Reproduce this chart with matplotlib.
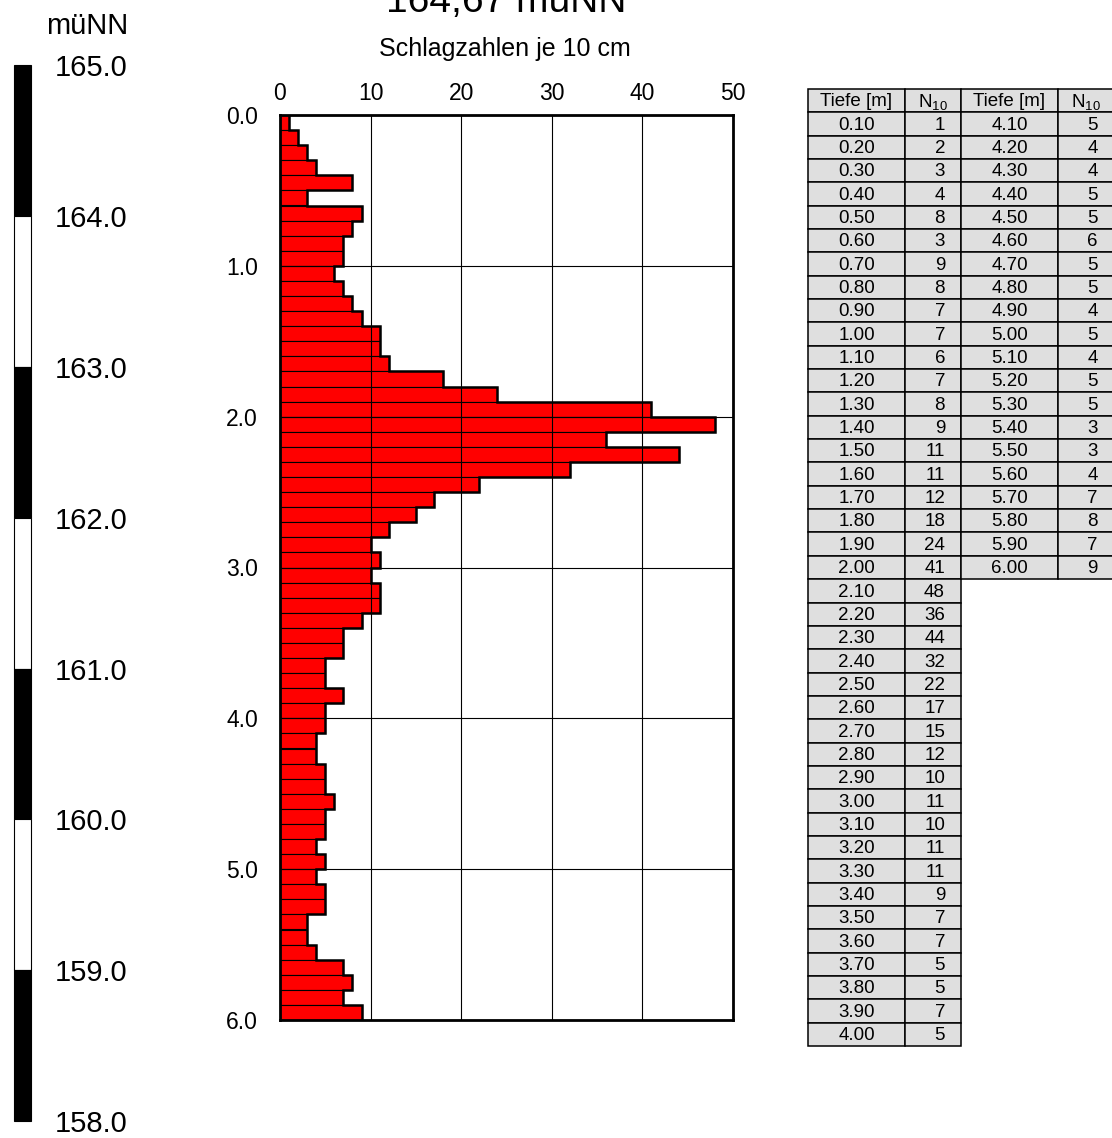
import numpy as np
import matplotlib.pyplot as plt
import matplotlib.transforms as mtransforms
from matplotlib.patches import Rectangle

plt.rcParams['font.family'] = ['Liberation Sans', 'DejaVu Sans']
plt.rcParams['mathtext.fontset'] = 'custom'
plt.rcParams['mathtext.rm'] = 'Liberation Sans'
plt.rcParams['mathtext.it'] = 'Liberation Sans:italic'

# Ansatzhoehe und Schlagzahlen N10 je 10 cm
ansatz = 164.67
tiefe = np.round(np.arange(1, 61) * 0.1, 2)
n10 = [1, 2, 3, 4, 8, 3, 9, 8, 7, 7,
       6, 7, 8, 9, 11, 11, 12, 18, 24, 41,
       48, 36, 44, 32, 22, 17, 15, 12, 10, 11,
       10, 11, 11, 9, 7, 7, 5, 5, 7, 5,
       5, 4, 4, 5, 5, 6, 5, 5, 4, 5,
       4, 5, 5, 3, 3, 4, 7, 8, 7, 9]
hoehen = [165.0, 164.0, 163.0, 162.0, 161.0, 160.0, 159.0, 158.0]
x_ticks = [0, 10, 20, 30, 40, 50]
y_ticks = [0, 1, 2, 3, 4, 5, 6]
split = 40  # Zeilen in der ersten Tabellenspalte

W, H = 1112, 1138
def fx(p): return p / W
def fy(p): return 1 - p / H

fig = plt.figure(figsize=(W / 100, H / 100), dpi=100)

# Hauptdiagramm
ax = fig.add_axes([fx(280), fy(1020), (733 - 280) / W, (1020 - 115) / H])
ax.barh(tiefe - 0.05, n10, height=0.1, color='red', edgecolor='black',
        linewidth=0.8, zorder=1)
ax.stairs(n10, np.r_[0, tiefe], orientation='horizontal', baseline=None,
          color='black', lw=1.8, zorder=2)
ax.set_xlim(0, 50)
ax.set_ylim(6, 0)
ax.xaxis.tick_top()
ax.set_xticks(x_ticks)
ax.set_yticks(y_ticks)
ax.set_yticklabels([f'{v:.1f}' for v in y_ticks])
ax.tick_params(axis='x', length=0, labelsize=16.5, pad=7)
ax.tick_params(axis='y', length=0, labelsize=16.5, pad=16)
ax.grid(True, color='black', lw=0.8)
ax.set_axisbelow(False)
for s in ax.spines.values():
    s.set_linewidth(2)

fig.text(fx(506), fy(12), f'{ansatz:.2f}'.replace('.', ',') + ' müNN',
         ha='center', va='baseline', fontsize=28)
fig.text(fx(505), fy(56), 'Schlagzahlen je 10 cm', ha='center',
         va='baseline', fontsize=18)

# Hoehenskala
ax_el = fig.add_axes([fx(14), fy(1020), 17 / W, (1020 - 115) / H])
ax_el.set_xlim(0, 1)
ax_el.set_ylim(ansatz - 6, ansatz)
ax_el.axis('off')
for i in range(len(hoehen) - 1):
    lo, hi = hoehen[i + 1], hoehen[i]
    ax_el.add_patch(Rectangle((0, lo), 1, hi - lo,
                              facecolor='black' if i % 2 == 0 else 'white',
                              edgecolor='black', lw=0.8, clip_on=False))
trans = mtransforms.blended_transform_factory(fig.transFigure, ax_el.transData)
for h in hoehen:
    ax_el.text(fx(55), h - 0.02, f'{h:.1f}', transform=trans, ha='left',
               va='center', fontsize=21, clip_on=False)
fig.text(fx(128), fy(26), 'müNN', ha='right', va='center', fontsize=21)

# Tabelle
ax_t = fig.add_axes([fx(808), fy(1046), (1114 - 808) / W, (1046 - 89) / H])
ax_t.set_xlim(0, 306)
ax_t.set_ylim(41, 0)
ax_t.axis('off')
col_x = [0, 97, 153, 250, 306]
fill = '#dfdfdf'

def cell(x0, x1, r, txt, align='center'):
    ax_t.add_patch(Rectangle((x0, r), x1 - x0, 1, facecolor=fill,
                             edgecolor='black', lw=1.1, clip_on=False))
    if align == 'center':
        ax_t.text((x0 + x1) / 2, r + 0.55, txt, ha='center', va='center',
                  fontsize=13.5, clip_on=False)
    else:
        ax_t.text(x1 - 16, r + 0.55, txt, ha='right', va='center',
                  fontsize=13.5, clip_on=False)

blocks = [(tiefe[:split], n10[:split], 0), (tiefe[split:], n10[split:], 2)]
for t_vals, n_vals, c in blocks:
    cell(col_x[c], col_x[c + 1], 0, 'Tiefe [m]')
    cell(col_x[c + 1], col_x[c + 2], 0, 'N$_{10}$')
    for r, (t, n) in enumerate(zip(t_vals, n_vals), start=1):
        cell(col_x[c], col_x[c + 1], r, f'{t:.2f}')
        cell(col_x[c + 1], col_x[c + 2], r, str(n), align='right')

fig.savefig('out.png', dpi=100)
